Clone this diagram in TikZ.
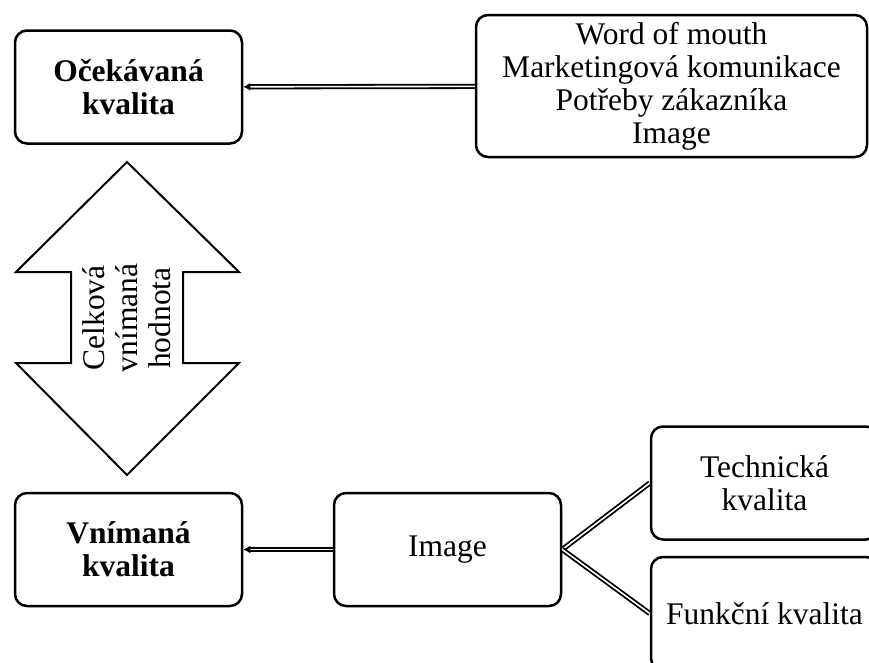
\documentclass[tikz,border=0pt]{standalone}
\usepackage{fontspec}
\setmainfont{Liberation Serif}
\usepackage{tikz}
\usetikzlibrary{arrows.meta}
\tikzset{box/.style={draw, rounded corners=12pt, line width=2.5pt, align=center, minimum width=227pt, minimum height=113pt, inner sep=0pt, font=\fontsize{31.5}{33}\selectfont}}
\tikzset{bold-box/.style={box, font=\fontsize{31.5}{33}\selectfont\bfseries}}
\tikzset{link/.style={double, line width=1.8pt, double distance=1.6pt}}
\tikzset{link-arrow/.style={link, -{Latex[length=7pt,width=8pt]}}}

\begin{document}
\begin{tikzpicture}[x=1pt, y=-1pt]
      \useasboundingbox (0, 0) rectangle (869, 662);
      \clip (0, 0) rectangle (869, 662);

      \node[bold-box] (expected) at (128.5, 87) {Očekávaná\\kvalita};
      \node[box, minimum width=391pt, minimum height=142pt] (sources) at (671.5, 86)
        {Word of mouth\\Marketingová komunikace\\Potřeby zákazníka\\Image};
      \node[bold-box] (perceived) at (128.5, 549.5) {Vnímaná\\kvalita};
      \node[box] (image) at (447.5, 549.5) {Image};
      \node[box] (technical) at (764.5, 483) {Technická\\kvalita};
      \node[box] (functional) at (764.5, 613.5) {Funkční kvalita};

      \draw[line width=2pt, line join=miter] (127, 162) -- (239, 272) -- (183, 272) -- (183, 363)
        -- (239, 363) -- (127, 475) -- (16, 363) -- (71, 363) -- (71, 272) -- (16, 272) -- cycle;
      \node[rotate=90, align=center, font=\fontsize{31.5}{33}\selectfont] (value) at (127, 318)
        {Celková\\vnímaná\\hodnota};

      \draw[link-arrow] (sources) -- (expected);
      \draw[link-arrow] (image) -- (perceived);
      \draw[link] (image.east) -- (technical.west);
      \draw[link] (image.east) -- (functional.west);
    \end{tikzpicture}
\end{document}
